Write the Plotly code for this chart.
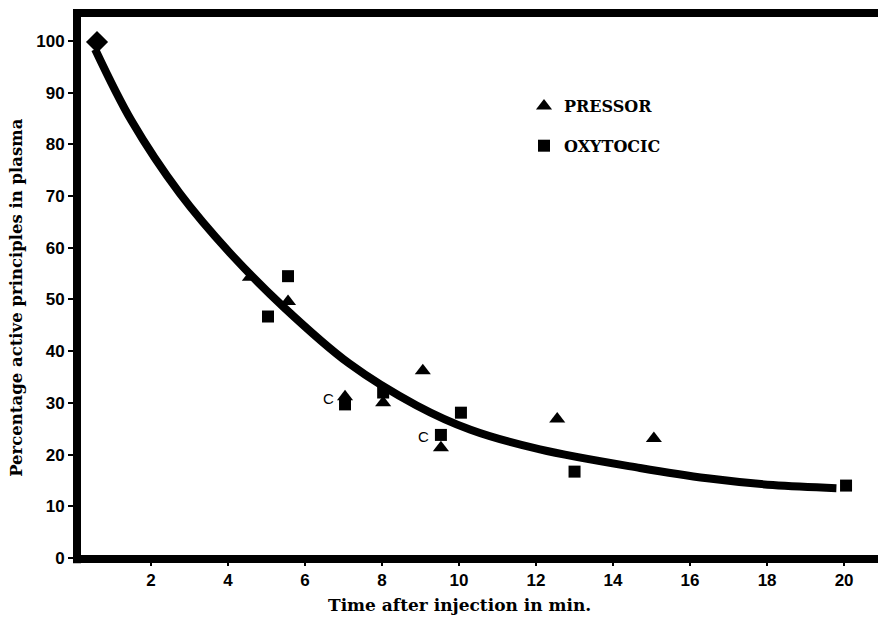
import plotly.graph_objects as go

# Data
pressor_x = [4.57, 5.56, 7.04, 8.03, 9.06, 9.53, 12.55, 15.06]
pressor_y = [54.3, 49.6, 31.2, 30.0, 36.2, 21.3, 26.9, 23.1]

oxytocic_x = [5.04, 5.56, 7.04, 8.03, 9.53, 10.05, 13.0, 20.05]
oxytocic_y = [46.7, 54.5, 29.7, 32.0, 23.8, 28.1, 16.7, 14.0]

start_x = [0.6]
start_y = [99.8]

curve_x = [0.55, 1.5, 2.75, 4.05, 5.45, 7.15, 8.9, 10.3, 12.1, 14.7, 16.45, 18.15, 19.8]
curve_y = [98.4, 84.5, 70.5, 59.0, 48.5, 37.6, 29.5, 24.8, 21.0, 17.4, 15.4, 14.1, 13.5]

x_ticks = [2, 4, 6, 8, 10, 12, 14, 16, 18, 20]
y_ticks = [0, 10, 20, 30, 40, 50, 60, 70, 80, 90, 100]

c_labels_x = [7.04, 9.53]
c_labels_y = [31.2, 23.8]

fig = go.Figure()

fig.add_trace(go.Scatter(x=curve_x, y=curve_y, mode="lines",
                         line=dict(color="black", width=8, shape="spline", smoothing=1.0),
                         showlegend=False, hoverinfo="skip"))
fig.add_trace(go.Scatter(x=start_x, y=start_y, mode="markers",
                         marker=dict(symbol="diamond", size=17, color="black"),
                         showlegend=False))
fig.add_trace(go.Scatter(x=pressor_x, y=pressor_y, mode="markers", name="PRESSOR",
                         legendgroup="p",
                         marker=dict(symbol="triangle-up", size=14, color="black")))
fig.add_trace(go.Scatter(x=oxytocic_x, y=oxytocic_y, mode="markers", name="OXYTOCIC",
                         legendgroup="o",
                         marker=dict(symbol="square", size=12, color="black")))

for cx, cy in zip(c_labels_x, c_labels_y):
    fig.add_annotation(x=cx, y=cy, text="C", showarrow=False, xshift=-17, yshift=-2,
                       font=dict(family="Liberation Sans", size=15, color="black"))

# Frame lines
frame = dict(type="line", xref="paper", yref="paper", layer="above",
             line=dict(color="black", width=8))
fig.add_shape(**frame, x0=0, x1=0, y0=-0.008, y1=1.005)
fig.add_shape(**frame, x0=-0.005, x1=1.0, y0=0, y1=0)
fig.add_shape(**frame, x0=-0.005, x1=1.0, y0=1, y1=1)

fig.add_annotation(xref="paper", yref="paper", x=0.477, y=-0.084,
                   xanchor="center", yanchor="middle",
                   text="<b>Time after injection in min.</b>", showarrow=False,
                   font=dict(family="DejaVu Serif", size=17, color="black"))
fig.add_annotation(xref="paper", yref="paper", x=-0.075, y=0.48, textangle=-90,
                   xanchor="center", yanchor="middle",
                   text="<b>Percentage active principles in plasma</b>", showarrow=False,
                   font=dict(family="DejaVu Serif", size=16.5, color="black"))

fig.update_layout(
    width=878, height=619,
    margin=dict(l=77, r=0, t=13, b=60),
    paper_bgcolor="white", plot_bgcolor="white",
    showlegend=True,
    legend=dict(x=(524 - 77) / 801, y=(559 - 89) / 546, xanchor="left", yanchor="top",
                traceorder="grouped", tracegroupgap=16, bgcolor="rgba(0,0,0,0)",
                font=dict(family="DejaVu Serif", size=16, color="black", weight="bold")),
    xaxis=dict(range=[0.08, 20.88], tickvals=x_ticks, showgrid=False, zeroline=False,
               showline=False, ticks="outside", ticklen=6, tickwidth=2, tickcolor="black",
               tickfont=dict(family="Liberation Sans", size=17, color="black", weight="bold")),
    yaxis=dict(range=[-0.2, 105.4], tickvals=y_ticks, showgrid=False, zeroline=False,
               showline=False, ticks="outside", ticklen=8, tickwidth=2, tickcolor="black",
               tickfont=dict(family="Liberation Sans", size=17, color="black", weight="bold")),
)

fig.write_html("out.html")
